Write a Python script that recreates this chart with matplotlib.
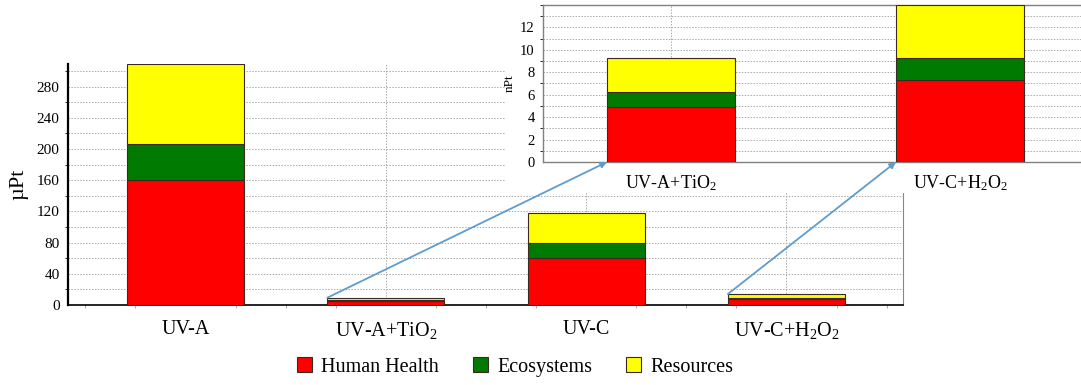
import matplotlib.pyplot as plt
from matplotlib.patches import Rectangle, ConnectionPatch
from matplotlib.ticker import MultipleLocator
import numpy as np

plt.rcParams['font.family'] = ['Liberation Serif', 'DejaVu Serif']
plt.rcParams['mathtext.fontset'] = 'custom'
plt.rcParams['mathtext.rm'] = 'Liberation Serif'
plt.rcParams['mathtext.it'] = 'Liberation Serif:italic'

# main chart data (µPt)
categories = ['UV-A', 'UV-A+TiO$_2$', 'UV-C', 'UV-C+H$_2$O$_2$']
human_health = [160, 4.9, 60, 7.3]
ecosystems = [47, 1.3, 19, 2.0]
resources = [102, 3.1, 39, 4.7]

# zoomed inset data (nPt)
inset_categories = ['UV-A+TiO$_2$', 'UV-C+H$_2$O$_2$']
inset_human_health = [4.9, 7.3]
inset_ecosystems = [1.3, 2.0]
inset_resources = [3.1, 4.7]

series_names = ['Human Health', 'Ecosystems', 'Resources']
colors = ['#ff0000', '#007a00', '#ffff00']
grid_kw = dict(color='#aaaaaa', linestyle=(0, (1.5, 1.5)), linewidth=0.7)


def stacked(ax, x, layers, width):
    bottom = np.zeros(len(x))
    bars = []
    for vals, c, name in zip(layers, colors, series_names):
        b = ax.bar(x, vals, width, bottom=bottom, color=c, edgecolor='#3a2a20',
                   linewidth=0.8, label=name, zorder=3)
        bars.append(b)
        bottom = bottom + np.array(vals)
    return bars


fig = plt.figure(figsize=(10.81, 3.85), dpi=100)

# main axes
ax = fig.add_axes([68 / 1081, 1 - 305 / 385, (903 - 68) / 1081, (305 - 64) / 385])
x = np.arange(len(categories))
bars = stacked(ax, x, [human_health, ecosystems, resources], 0.585)
ax.set_xlim(-0.587, 3.582)
ax.set_ylim(0, 309)
ax.set_yticks(range(0, 281, 40))
ax.yaxis.set_minor_locator(MultipleLocator(20))
ax.set_xticks(x)
ax.set_xticklabels(categories, fontsize=14.5)
ax.xaxis.set_minor_locator(MultipleLocator(0.25))
ax.tick_params(axis='y', length=0, labelsize=11, pad=6)
ax.tick_params(axis='x', which='major', length=0, pad=11)
ax.tick_params(axis='x', which='minor', length=2, direction='out', color='#999999')
ax.grid(axis='y', which='both', **grid_kw)
ax.grid(axis='x', which='major', **grid_kw)
ax.set_axisbelow(True)
ax.spines['top'].set_visible(False)
ax.spines['right'].set_color('#888888')
ax.spines['right'].set_linewidth(0.8)
ax.spines['left'].set_linewidth(1.6)
ax.spines['bottom'].set_linewidth(1.2)
ax.set_ylabel('µPt', fontsize=16, labelpad=6)

# white panel behind inset
fig.add_artist(Rectangle((505 / 1081, 1 - 193 / 385), 1, 193 / 385,
                         transform=fig.transFigure, facecolor='white',
                         edgecolor='none', zorder=1))

# inset axes
ins = fig.add_axes([543 / 1081, 1 - 162 / 385, 1 - 543 / 1081, (162 - 5) / 385], zorder=2)
xi = np.arange(len(inset_categories))
stacked(ins, xi, [inset_human_health, inset_ecosystems, inset_resources], 0.443)
ins.set_xlim(-0.443, 1.419)
ins.set_ylim(0, 14)
ins.set_yticks(range(0, 13, 2))
ins.yaxis.set_minor_locator(MultipleLocator(1))
ins.set_xticks(xi)
ins.set_xticklabels(inset_categories, fontsize=13)
ins.tick_params(axis='y', length=0, labelsize=10.5, pad=6)
ins.tick_params(axis='x', length=0, pad=8)
ins.grid(axis='y', which='both', **grid_kw)
ins.grid(axis='x', which='major', **grid_kw)
ins.set_axisbelow(True)
for s in ins.spines.values():
    s.set_color('#808080')
    s.set_linewidth(1.0)
ins.spines['right'].set_visible(False)
ins.set_ylabel('nPt', fontsize=9.5, labelpad=3)

# arrows from the small main bars to the inset
for i_main, i_ins in [(1, 0), (3, 1)]:
    top = human_health[i_main] + ecosystems[i_main] + resources[i_main]
    con = ConnectionPatch(xyA=(i_main - 0.2925, top), coordsA=ax.transData,
                          xyB=(i_ins - 0.2215, 0), coordsB=ins.transData,
                          arrowstyle='-|>', mutation_scale=9, color='#5f9ccc',
                          linewidth=1.3, zorder=5)
    fig.add_artist(con)

fig.legend(handles=bars, labels=series_names, loc='center', ncol=3,
           bbox_to_anchor=(515 / 1081, 1 - 367 / 385), frameon=False,
           fontsize=14.5, handlelength=0.75, handleheight=0.75, handletextpad=0.45,
           columnspacing=1.7)

fig.savefig('out.png', dpi=100)
